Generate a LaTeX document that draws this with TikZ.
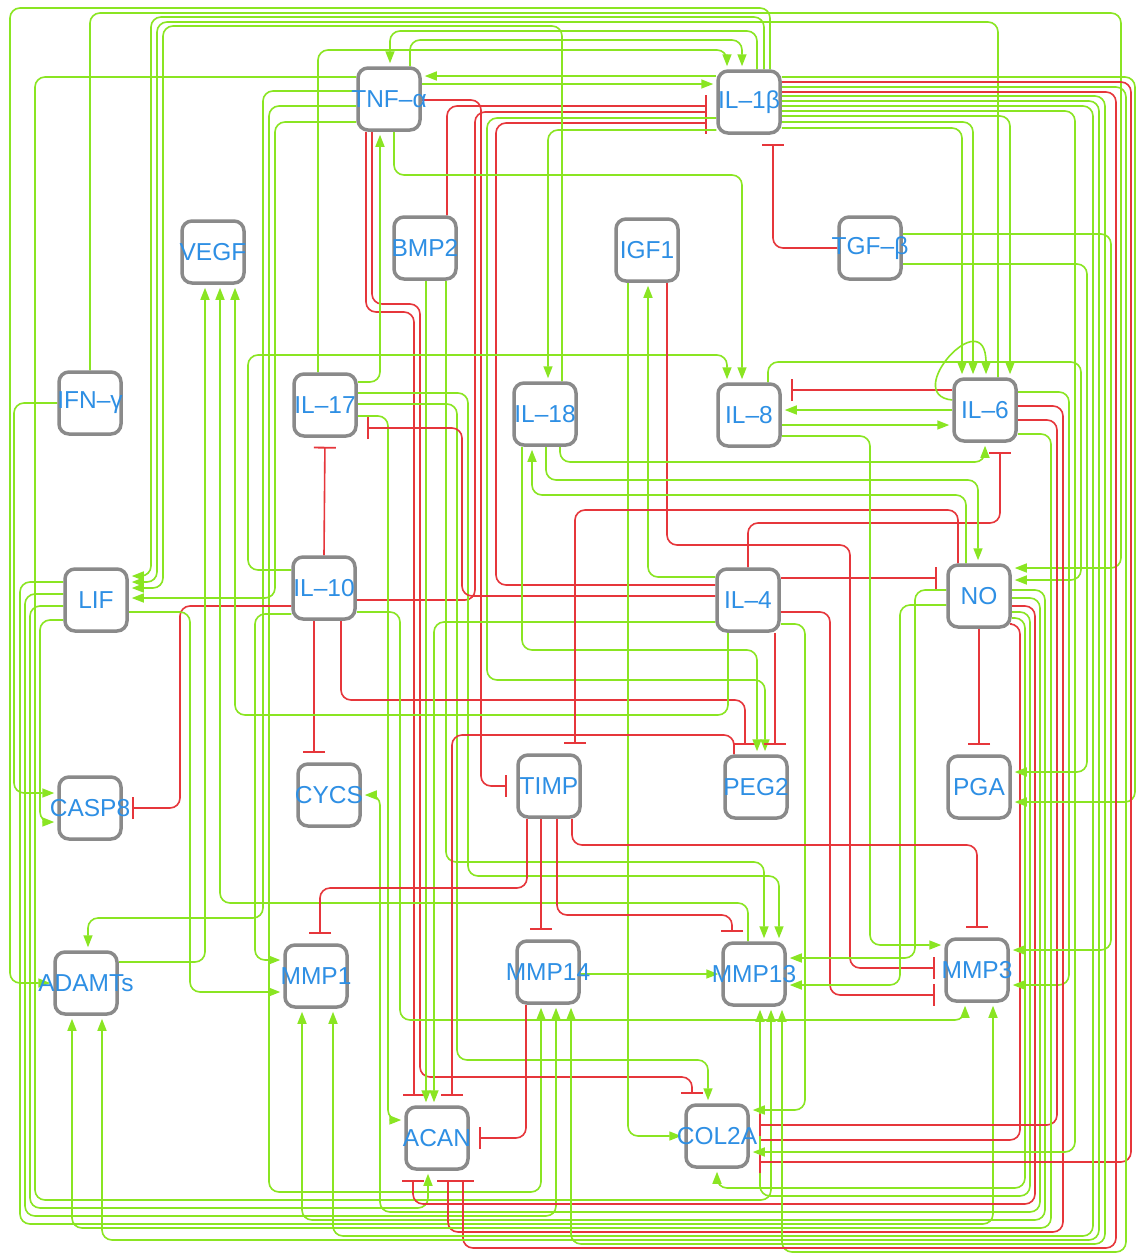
\documentclass[tikz,border=0pt]{standalone}
\usepackage{fontspec}
\setmainfont{Liberation Sans}
\usetikzlibrary{arrows.meta}
\definecolor{actg}{HTML}{8AE522}
\definecolor{inhr}{HTML}{E6363B}
\definecolor{boxg}{HTML}{8A8A8A}
\definecolor{txtb}{HTML}{2E8FE4}
\pgfdeclarelayer{bg}
\pgfdeclarelayer{edges}
\pgfsetlayers{bg,edges,main}
\begin{document}
\begin{tikzpicture}[x=1pt,y=-1pt,
  box/.style={draw=boxg, line width=3.5pt, fill=white, rounded corners=10pt, minimum width=62pt, minimum height=62pt, inner sep=0pt},
  lbl/.style={text=txtb, font=\fontsize{24.5pt}{27pt}\selectfont, inner sep=0pt},
  act/.style={draw=actg, line width=1.6pt, rounded corners=10pt, -{Triangle[length=12pt,width=9pt]}, shorten >=3pt},
  inh/.style={draw=inhr, line width=1.6pt, rounded corners=10pt, -{Bar[width=22pt,line width=1.8pt]}, shorten >=9pt}]
\useasboundingbox (0,0) rectangle (1139,1259);
\begin{pgfonlayer}{bg}
\fill[white] (0,0) rectangle (1139,1259);
\end{pgfonlayer}
% nodes
\node[box,label={[lbl]center:TNF–α}] (TNF) at (389,99) {};
\node[box,label={[lbl]center:IL–1β}] (IL1) at (749,102) {};
\node[box,label={[lbl]center:VEGF}] (VEGF) at (213,252) {};
\node[box,label={[lbl]center:BMP2}] (BMP) at (425,248) {};
\node[box,label={[lbl]center:IGF1}] (IGF) at (647,250) {};
\node[box,label={[lbl]center:TGF–β}] (TGF) at (870,248) {};
\node[box,label={[lbl]center:IFN–γ}] (IFN) at (90,403) {};
\node[box,label={[lbl]center:IL–17}] (IL17) at (325,405) {};
\node[box,label={[lbl]center:IL–18}] (IL18) at (545,414) {};
\node[box,label={[lbl]center:IL–8}] (IL8) at (749,415) {};
\node[box,label={[lbl]center:IL–6}] (IL6) at (985,410) {};
\node[box,label={[lbl]center:LIF}] (LIF) at (96,600) {};
\node[box,label={[lbl]center:IL–10}] (IL10) at (324,588) {};
\node[box,label={[lbl]center:IL–4}] (IL4) at (748,600) {};
\node[box,label={[lbl]center:NO}] (NO) at (979,596) {};
\node[box,label={[lbl]center:CASP8}] (CASP) at (90,808) {};
\node[box,label={[lbl]center:CYCS}] (CYCS) at (329,795) {};
\node[box,label={[lbl]center:TIMP}] (TIMP) at (549,786) {};
\node[box,label={[lbl]center:PEG2}] (PEG) at (756,787) {};
\node[box,label={[lbl]center:PGA}] (PGA) at (979,787) {};
\node[box,label={[lbl]center:ADAMTs}] (ADAM) at (86,983) {};
\node[box,label={[lbl]center:MMP1}] (MMP1) at (316,976) {};
\node[box,label={[lbl]center:MMP14}] (MMP14) at (548,972) {};
\node[box,label={[lbl]center:MMP13}] (MMP13) at (754,974) {};
\node[box,label={[lbl]center:MMP3}] (MMP3) at (977,970) {};
\node[box,label={[lbl]center:ACAN}] (ACAN) at (437,1138) {};
\node[box,label={[lbl]center:COL2A}] (COL) at (717,1136) {};
\begin{pgfonlayer}{edges}
% TNF - IL1
\draw[act] (IL1.west |- 0,76) -- (TNF.east |- 0,76);
\draw[act] (TNF.east |- 0,84) -- (IL1.west |- 0,84);
\draw[inh] (TNF.east |- 0,100) -- (481,100) -- (481,786) -- (TIMP.west |- 0,786);
\draw[inh] (BMP.north -| 447,0) -- (447,106) -- (IL1.west |- 0,106);
\draw[inh] (IL10.east |- 0,600) -- (475,600) -- (475,112) -- (IL1.west |- 0,112);
\draw[inh] (IL4.west |- 0,585) -- (496,585) -- (496,123) -- (IL1.west |- 0,123);
\draw[act] (IL1.west |- 0,118) -- (487,118) -- (487,680) -- (765,680) -- (PEG.north -| 765,0);
\draw[act] (IL1.west |- 0,130) -- (548,130) -- (IL18.north -| 548,0);
\draw[inh] (TGF.west) -- (773,248) -- (IL1.south -| 773,0);
% over the top
\draw[act] (IL17.north -| 318,0) -- (318,50) -- (727,50) -- (IL1.north -| 727,0);
\draw[act] (TNF.north -| 410,0) -- (410,40) -- (742,40) -- (IL1.north -| 742,0);
\draw[act] (IL1.north -| 757,0) -- (757,31) -- (390,31) -- (TNF.north -| 390,0);
\draw[act] (IL1.north -| 764,0) -- (764,17) -- (151,17) -- (151,576) -- (LIF.east |- 0,576);
\draw[act] (IL1.north -| 770,0) -- (770,8) -- (10,8) -- (10,983) -- (ADAM.west |- 0,983);
\draw[act] (IL6.north -| 998,0) -- (998,22) -- (157,22) -- (157,582) -- (LIF.east |- 0,582);
\draw[act] (IL18.north -| 562,0) -- (562,26) -- (163,26) -- (163,588) -- (LIF.east |- 0,588);
\draw[act] (IFN.north) -- (90,13) -- (1121,13) -- (1121,568) -- (NO.east |- 0,568);
% TNF west and south
\draw[act] (TNF.west |- 0,77) -- (35,77) -- (35,1200) -- (771,1200) -- (MMP13.south -| 771,0);
\draw[act] (TNF.west |- 0,91) -- (263,91) -- (263,918) -- (88,918) -- (ADAM.north -| 88,0);
\draw[act] (TNF.west |- 0,106) -- (269,106) -- (269,1192) -- (541,1192) -- (MMP14.south -| 541,0);
\draw[act] (TNF.west |- 0,122) -- (275,122) -- (275,598) -- (LIF.east |- 0,598);
\draw[inh] (TNF.south -| 366,0) -- (366,312) -- (414,312) -- (ACAN.north -| 414,0);
\draw[inh] (TNF.south -| 372,0) -- (372,304) -- (420,304) -- (420,1077) -- (692,1077) -- (COL.north -| 692,0);
\draw[act] (IL17.east |- 0,382) -- (380,382) -- (TNF.south -| 380,0);
\draw[act] (TNF.south -| 394,0) -- (394,175) -- (742,175) -- (IL8.north -| 742,0);
% BMP2
\draw[act] (BMP.south -| 426,0) -- (ACAN.north -| 426,0);
\draw[act] (BMP.south -| 446,0) -- (446,862) -- (764,862) -- (MMP13.north -| 764,0);
% IL17
\draw[act] (IL17.east |- 0,393) -- (468,393) -- (468,876) -- (779,876) -- (MMP13.north -| 779,0);
\draw[act] (IL17.east |- 0,404) -- (457,404) -- (457,1060) -- (708,1060) -- (COL.north -| 708,0);
\draw[act] (IL17.east |- 0,416) -- (388,416) -- (388,1120) -- (ACAN.west |- 0,1120);
\draw[inh] (IL4.west |- 0,596) -- (462,596) -- (462,428) -- (IL17.east |- 0,428);
\draw[inh] (IL10.north) -- (IL17.south);
% IL10
\draw[inh] (IL10.south -| 314,0) -- (CYCS.north -| 314,0);
\draw[inh] (IL10.south -| 341,0) -- (341,700) -- (745,700) -- (PEG.north -| 745,0);
\draw[inh] (IL10.west |- 0,606) -- (180,606) -- (180,808) -- (CASP.east |- 0,808);
\draw[act] (IL10.west |- 0,570) -- (248,570) -- (248,355) -- (727,355) -- (IL8.north -| 727,0);
\draw[act] (IL10.west |- 0,614) -- (255,614) -- (255,960) -- (MMP1.west |- 0,960);
\draw[act] (IL10.east |- 0,612) -- (400,612) -- (400,1020) -- (965,1020) -- (MMP3.south -| 965,0);
% LIF
\draw[act] (LIF.east |- 0,612) -- (190,612) -- (190,992) -- (MMP1.west |- 0,992);
\draw[act] (LIF.west |- 0,582) -- (20,582) -- (20,1224) -- (993,1224) -- (MMP3.south -| 993,0);
\draw[act] (LIF.west |- 0,594) -- (25,594) -- (25,1216) -- (556,1216) -- (MMP14.south -| 556,0);
\draw[act] (LIF.west |- 0,606) -- (30,606) -- (30,1208) -- (428,1208) -- (ACAN.south -| 428,0);
\draw[act] (LIF.west |- 0,620) -- (40,620) -- (40,822) -- (CASP.west |- 0,822);
% IFN, ADAMTs, VEGF
\draw[act] (IFN.west) -- (14,403) -- (14,793) -- (CASP.west |- 0,793);
\draw[act] (ADAM.east |- 0,962) -- (205,962) -- (VEGF.south -| 205,0);
\draw[act] (MMP13.north -| 748,0) -- (748,903) -- (220,903) -- (VEGF.south -| 220,0);
\draw[act] (IL4.south -| 728,0) -- (728,715) -- (235,715) -- (VEGF.south -| 235,0);
% IGF1
\draw[act] (IGF.south -| 628,0) -- (628,1136) -- (COL.west |- 0,1136);
\draw[act] (IL4.west |- 0,577) -- (648,577) -- (IGF.south -| 648,0);
\draw[inh] (IGF.south -| 667,0) -- (667,545) -- (850,545) -- (850,968) -- (MMP3.west |- 0,968);
% IL4
\draw[inh] (IL4.east |- 0,578) -- (NO.west |- 0,578);
\draw[inh] (IL4.north) -- (748,523) -- (1000,523) -- (IL6.south -| 1000,0);
\draw[inh] (IL4.south -| 775,0) -- (PEG.north -| 775,0);
\draw[inh] (IL4.east |- 0,612) -- (830,612) -- (830,995) -- (MMP3.west |- 0,995);
\draw[act] (IL4.east |- 0,624) -- (805,624) -- (805,1110) -- (COL.east |- 0,1110);
\draw[act] (IL4.west |- 0,622) -- (434,622) -- (ACAN.north -| 434,0);
% IL18
\draw[act] (IL18.south -| 522,0) -- (522,650) -- (757,650) -- (PEG.north -| 757,0);
\draw[act] (NO.north -| 966,0) -- (966,495) -- (532,495) -- (IL18.south -| 532,0);
\draw[act] (IL18.south -| 546,0) -- (546,480) -- (978,480) -- (NO.north -| 978,0);
\draw[act] (IL18.south -| 560,0) -- (560,462) -- (985,462) -- (IL6.south -| 985,0);
% NO
\draw[inh] (NO.north -| 958,0) -- (958,510) -- (575,510) -- (TIMP.north -| 575,0);
\draw[inh] (NO.south) -- (PGA.north);
\draw[act] (NO.west |- 0,590) -- (915,590) -- (915,958) -- (MMP13.east |- 0,958);
\draw[act] (NO.west |- 0,605) -- (900,605) -- (900,985) -- (MMP13.east |- 0,985);
\draw[inh] (NO.east |- 0,624) -- (1020,624) -- (1020,1140) -- (COL.east |- 0,1140);
\draw[act] (NO.east |- 0,618) -- (1025,618) -- (1025,1188) -- (717,1188) -- (COL.south -| 717,0);
\draw[act] (NO.east |- 0,612) -- (1030,612) -- (1030,1196) -- (760,1196) -- (MMP13.south -| 760,0);
\draw[inh] (NO.east |- 0,606) -- (1035,606) -- (1035,1204) -- (413,1204) -- (ACAN.south -| 413,0);
\draw[act] (NO.east |- 0,598) -- (1040,598) -- (1040,1212) -- (380,1212) -- (380,795) -- (CYCS.east |- 0,795);
\draw[act] (NO.east |- 0,590) -- (1045,590) -- (1045,1220) -- (302,1220) -- (MMP1.south -| 302,0);
% IL8 / IL6
\draw[inh] (IL6.west |- 0,390) -- (IL8.east |- 0,390);
\draw[act] (IL6.west |- 0,410) -- (IL8.east |- 0,410);
\draw[act] (IL8.east |- 0,425) -- (IL6.west |- 0,425);
\draw[act] (IL6.west |- 0,400) .. controls (900,395) and (986,300) .. (IL6.north -| 986,0);
\draw[act] (IL8.east |- 0,436) -- (870,436) -- (870,945) -- (MMP3.west |- 0,945);
\draw[act] (IL8.north -| 768,0) -- (768,362) -- (1081,362) -- (1081,580) -- (NO.east |- 0,580);
\draw[act] (IL1.east |- 0,116) -- (1010,116) -- (IL6.north -| 1010,0);
\draw[act] (IL1.east |- 0,122) -- (973,122) -- (IL6.north -| 973,0);
\draw[act] (IL1.east |- 0,128) -- (962,128) -- (IL6.north -| 962,0);
\draw[act] (IL6.east |- 0,392) -- (1069,392) -- (1069,985) -- (MMP3.east |- 0,985);
\draw[inh] (IL6.east |- 0,406) -- (1063,406) -- (1063,1232) -- (448,1232) -- (ACAN.south -| 448,0);
\draw[inh] (IL6.east |- 0,420) -- (1057,420) -- (1057,1125) -- (COL.east |- 0,1125);
\draw[act] (IL6.east |- 0,434) -- (1051,434) -- (1051,1228) -- (72,1228) -- (ADAM.south -| 72,0);
% TGF
\draw[act] (TGF.east |- 0,234) -- (1111,234) -- (1111,950) -- (MMP3.east |- 0,950);
\draw[act] (TGF.east |- 0,264) -- (1087,264) -- (1087,772) -- (PGA.east |- 0,772);
% IL1 east bundle
\draw[act] (IL1.east |- 0,77) -- (1135,77) -- (1135,802) -- (PGA.east |- 0,802);
\draw[inh] (IL1.east |- 0,82) -- (1131,82) -- (1131,1162) -- (COL.east |- 0,1162);
\draw[act] (IL1.east |- 0,87) -- (1126,87) -- (1126,1252) -- (782,1252) -- (MMP13.south -| 782,0);
\draw[inh] (IL1.east |- 0,92) -- (1116,92) -- (1116,1248) -- (463,1248) -- (ACAN.south -| 463,0);
\draw[act] (IL1.east |- 0,96) -- (1105,96) -- (1105,1244) -- (571,1244) -- (MMP14.south -| 571,0);
\draw[act] (IL1.east |- 0,101) -- (1099,101) -- (1099,1240) -- (102,1240) -- (ADAM.south -| 102,0);
\draw[act] (IL1.east |- 0,106) -- (1093,106) -- (1093,1236) -- (333,1236) -- (MMP1.south -| 333,0);
\draw[act] (IL1.east |- 0,111) -- (1075,111) -- (1075,1152) -- (COL.east |- 0,1152);
% TIMP
\draw[inh] (TIMP.south -| 527,0) -- (527,888) -- (320,888) -- (MMP1.north -| 320,0);
\draw[inh] (TIMP.south -| 541,0) -- (MMP14.north -| 541,0);
\draw[inh] (TIMP.south -| 557,0) -- (557,915) -- (732,915) -- (MMP13.north -| 732,0);
\draw[inh] (TIMP.south -| 572,0) -- (572,845) -- (977,845) -- (MMP3.north -| 977,0);
% MMP14, PEG2
\draw[act] (MMP14.east |- 0,974) -- (MMP13.west |- 0,974);
\draw[inh] (MMP14.south -| 526,0) -- (526,1138) -- (ACAN.east |- 0,1138);
\draw[inh] (PEG.north -| 734,0) -- (734,735) -- (452,735) -- (ACAN.north -| 452,0);
\end{pgfonlayer}
\end{tikzpicture}
\end{document}
